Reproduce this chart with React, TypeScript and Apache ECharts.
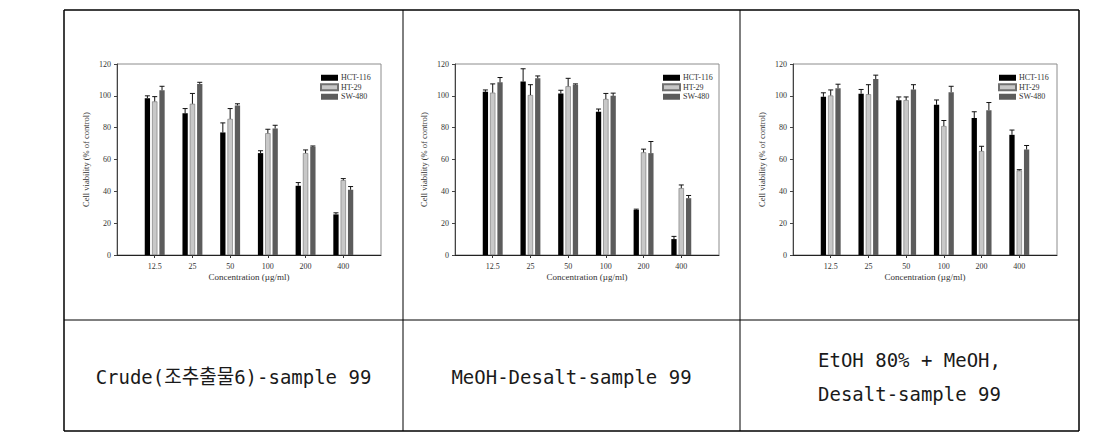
import React, { useEffect, useRef } from "react";
import * as echarts from "echarts";

const categories = ["12.5", "25", "50", "100", "200", "400"];
const seriesNames = ["HCT-116", "HT-29", "SW-480"];
const yTicks = { min: 0, max: 120, interval: 20 };

// Chart 1: Crude
const crudeHCT = [98.5, 89, 77, 64, 43.5, 25.5];
const crudeHCTErr = [1.5, 3, 6, 1.5, 2, 1];
const crudeHT = [96.5, 95, 85.5, 76.5, 64, 47];
const crudeHTErr = [3, 6.5, 6.5, 2.5, 2, 1];
const crudeSW = [103.5, 107.5, 94, 79.5, 68, 41];
const crudeSWErr = [2.5, 1, 1, 2, 0.5, 2];

// Chart 2: MeOH-Desalt
const meohHCT = [102.5, 109, 101.5, 90, 28.3, 10];
const meohHCTErr = [1.2, 8, 2, 1.7, 0.5, 1.7];
const meohHT = [102, 100.5, 106, 98, 64.5, 42];
const meohHTErr = [5.5, 6.5, 5, 3.5, 2, 2];
const meohSW = [108.5, 111, 107, 100, 64, 35.7];
const meohSWErr = [3, 1.5, 0.5, 1.7, 7.3, 1.7];

// Chart 3: EtOH 80% + MeOH, Desalt
const etohHCT = [99.4, 101.3, 97.3, 94.4, 86, 75.5];
const etohHCTErr = [2.5, 2.7, 2, 3, 4, 3];
const etohHT = [100.2, 101, 97.3, 81, 65.3, 53.1];
const etohHTErr = [3.5, 6, 2, 3.5, 3, 0.5];
const etohSW = [104.8, 110.5, 104, 102.3, 91, 66.3];
const etohSWErr = [2.5, 2.5, 3, 3.7, 4.8, 2.5];

const captions = [
  ["Crude(조추출물6)-sample 99"],
  ["MeOH-Desalt-sample 99"],
  ["EtOH 80% + MeOH,", "Desalt-sample 99"],
];

const panels = [
  { vals: [crudeHCT, crudeHT, crudeSW], errs: [crudeHCTErr, crudeHTErr, crudeSWErr] },
  { vals: [meohHCT, meohHT, meohSW], errs: [meohHCTErr, meohHTErr, meohSWErr] },
  { vals: [etohHCT, etohHT, etohSW], errs: [etohHCTErr, etohHTErr, etohSWErr] },
];

const gridLefts = [117, 455, 793];
const legendLefts = [320, 662, 998];
const GRID_W = 264;
const GRID_TOP = 64;
const GRID_H = 191;
const BAR_W = 5.3;
const BAR_GAP = 0.38;
const barColors = ["#000000", "#c8c8c8", "#5c5c5c"];
const serif = "Liberation Serif";
const axisTextColor = "#333333";

export default function App() {
  const ref = useRef<HTMLDivElement>(null);
  useEffect(() => {
    if (!ref.current) return;
    const chart = echarts.init(ref.current, undefined, { renderer: "svg" });
    const axisData = ["", ...categories, ""];

    const grids = gridLefts.map((l) => ({
      left: l,
      top: GRID_TOP,
      width: GRID_W,
      height: GRID_H,
      show: true,
      borderColor: "#8c8c8c",
      borderWidth: 1,
      backgroundColor: "transparent",
    }));

    const xAxes = gridLefts.map((_, g) => ({
      type: "category",
      gridIndex: g,
      data: axisData,
      boundaryGap: false,
      axisLine: { lineStyle: { color: "#222", width: 1 } },
      axisTick: {
        show: true,
        length: 3,
        interval: (i: number) => i > 0 && i < axisData.length - 1,
        lineStyle: { color: "#333" },
      },
      axisLabel: { interval: 0, margin: 7, fontFamily: serif, fontSize: 8, color: axisTextColor },
      name: "Concentration (µg/ml)",
      nameLocation: "middle",
      nameGap: 17,
      nameTextStyle: { fontFamily: serif, fontSize: 9, color: axisTextColor },
      splitLine: { show: false },
    }));

    const yAxes = gridLefts.map((_, g) => ({
      type: "value",
      gridIndex: g,
      min: yTicks.min,
      max: yTicks.max,
      interval: yTicks.interval,
      axisLine: { show: true, lineStyle: { color: "#444", width: 1 } },
      axisTick: { show: true, length: 3, lineStyle: { color: "#444" } },
      axisLabel: { margin: 6, fontFamily: serif, fontSize: 8, color: axisTextColor },
      splitLine: { show: false },
      name: "Cell viability (% of control)",
      nameLocation: "middle",
      nameGap: 27,
      nameTextStyle: { fontFamily: serif, fontSize: 8.5, color: axisTextColor },
    }));

    const series: any[] = [];
    panels.forEach((p, g) => {
      p.vals.forEach((vals, s) => {
        series.push({
          type: "bar",
          name: seriesNames[s],
          xAxisIndex: g,
          yAxisIndex: g,
          barWidth: BAR_W,
          barGap: `${BAR_GAP * 100}%`,
          data: [null, ...vals, null],
          itemStyle: {
            color: barColors[s],
            borderColor: s === 1 ? "#707070" : barColors[s],
            borderWidth: s === 1 ? 0.6 : 0,
          },
        });
      });
      const errData: number[][] = [];
      p.vals.forEach((vals, s) => {
        vals.forEach((v, i) => errData.push([i + 1, v, p.errs[s][i], s]));
      });
      series.push({
        type: "custom",
        xAxisIndex: g,
        yAxisIndex: g,
        z: 5,
        encode: { x: 0, y: 1 },
        data: errData,
        renderItem: (params: any, api: any) => {
          const x = api.value(0);
          const v = api.value(1);
          const e = api.value(2);
          const s = api.value(3);
          const base = api.coord([x, v]);
          const top = api.coord([x, v + e]);
          const off = (s - 1) * (BAR_W * (1 + BAR_GAP));
          const cx = base[0] + off;
          return {
            type: "group",
            children: [
              { type: "line", shape: { x1: cx, y1: base[1], x2: cx, y2: top[1] }, style: { stroke: "#111", lineWidth: 1 } },
              { type: "line", shape: { x1: cx - 2.5, y1: top[1], x2: cx + 2.5, y2: top[1] }, style: { stroke: "#111", lineWidth: 1 } },
            ],
          };
        },
      });
    });

    const legends = legendLefts.map((l) => ({
      left: l,
      top: 73,
      orient: "vertical",
      data: seriesNames,
      icon: "rect",
      itemWidth: 17,
      itemHeight: 6,
      itemGap: 0,
      padding: 0,
      selectedMode: false,
      textStyle: { fontFamily: serif, fontSize: 8, color: axisTextColor, lineHeight: 9.5, padding: [0, 0, 0, -2] },
    }));

    const L = 64, R = 1079, T = 10, B = 431, MID = 320;
    const colX = [L, 403, 740, R];
    const lineStyle = (w: number) => ({ stroke: "#000", lineWidth: w });
    const graphic: any[] = [
      { type: "line", shape: { x1: L, y1: T, x2: R, y2: T }, style: lineStyle(1.5) },
      { type: "line", shape: { x1: L, y1: B, x2: R, y2: B }, style: lineStyle(1.5) },
      { type: "line", shape: { x1: L, y1: T, x2: L, y2: B }, style: lineStyle(1.5) },
      { type: "line", shape: { x1: R, y1: T, x2: R, y2: B }, style: lineStyle(1.5) },
      { type: "line", shape: { x1: L, y1: MID, x2: R, y2: MID }, style: lineStyle(1) },
      { type: "line", shape: { x1: 403, y1: T, x2: 403, y2: B }, style: lineStyle(1) },
      { type: "line", shape: { x1: 740, y1: T, x2: 740, y2: B }, style: lineStyle(1) },
    ];
    captions.forEach((lines, c) => {
      const cx = (colX[c] + colX[c + 1]) / 2;
      const ys = lines.length === 1 ? [377] : [360, 394];
      lines.forEach((t, k) => {
        graphic.push({
          type: "text",
          x: cx,
          y: ys[k],
          scaleX: 0.95,
          style: {
            text: t,
            fontFamily: "'DejaVu Sans Mono', 'Noto Sans CJK KR', monospace",
            fontSize: 20,
            fill: "#1a1a1a",
            textAlign: "center",
            textVerticalAlign: "middle",
          },
        });
      });
    });

    chart.setOption({
      animation: false,
      backgroundColor: "#ffffff",
      grid: grids,
      xAxis: xAxes,
      yAxis: yAxes,
      legend: legends,
      series,
      graphic,
    });
    return () => chart.dispose();
  }, []);
  return (
    <div
      ref={ref}
      style={{ position: "absolute", left: 0, top: 0, width: 1114, height: 443, background: "#fff" }}
    />
  );
}
